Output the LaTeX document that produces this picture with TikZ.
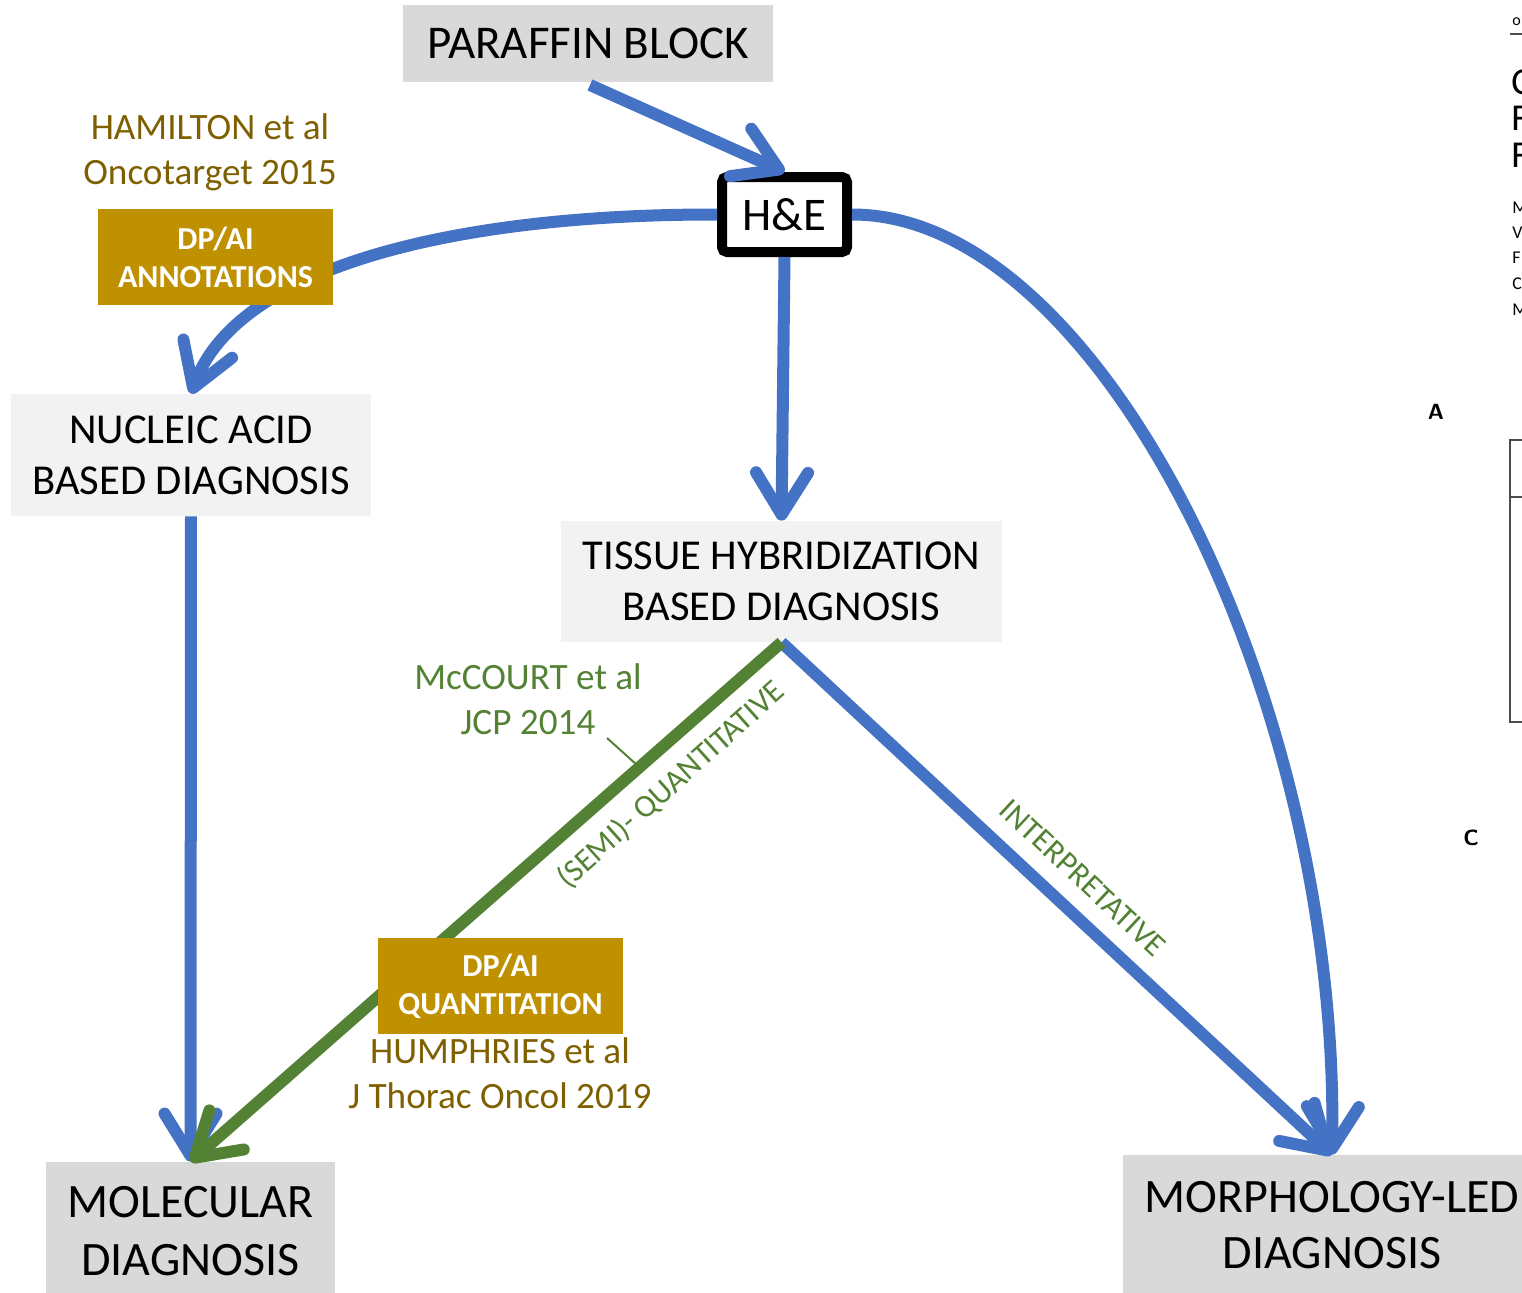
\documentclass[tikz,border=0pt]{standalone}
\usepackage{fontspec}
\setmainfont{Carlito}
\usetikzlibrary{arrows.meta}
\definecolor{offblue}{HTML}{4472C4}
\definecolor{offgreen}{HTML}{548235}
\definecolor{offgold}{HTML}{BF9000}
\definecolor{offolive}{HTML}{7F6000}
\definecolor{boxdark}{HTML}{D9D9D9}
\definecolor{boxlight}{HTML}{F2F2F2}
\begin{document}
\begin{tikzpicture}[
        x=0.5pt, y=-0.5pt,
        font=\fontsize{21.3}{25.5}\selectfont
    ]
    \tikzset{
        boxd/.style = {rectangle, fill=boxdark, inner sep=0pt, align=center},
        boxl/.style = {rectangle, fill=boxlight, inner sep=0pt, align=center},
        boxdp/.style = {rectangle, fill=offgold, inner sep=0pt, align=center, text=white,
            font=\fontsize{16}{19}\selectfont\bfseries},
        boxhe/.style = {rectangle, draw=black, line width=5pt, fill=white, rounded corners=2.5pt,
            minimum width=62.5pt, minimum height=37.5pt, inner sep=0pt, font=\fontsize{23.4}{25}\selectfont},
        refo/.style = {text=offolive, align=center, font=\fontsize{18.6}{22.5}\selectfont},
        refg/.style = {text=offgreen, align=center, font=\fontsize{18.6}{22.5}\selectfont},
        tip/.style = {-{Straight Barb[length=21pt, width=26pt, round]}},
        edgeb/.style = {tip, line width=6pt, offblue},
        edgeg/.style = {tip, line width=6pt, offgreen},
        edgepage/.style = {line width=1pt, black!70},
    }
    \useasboundingbox (0,0) rectangle (1522,1292);
    \clip (0,0) rectangle (1522,1292);
    %
    \node[boxd, minimum width=185pt, minimum height=38.5pt, font=\fontsize{23.5}{25}\selectfont] at (588,43.5) (paraffin) {PARAFFIN BLOCK};
    \node[boxhe] at (784.5,214.5) (he) {H\&E};
    \node[boxl, minimum width=180pt, minimum height=61pt] at (191,455) (nucleic) {NUCLEIC ACID\\BASED DIAGNOSIS};
    \node[boxl, minimum width=220.5pt, minimum height=60.5pt] at (781.5,581.5) (tissue) {TISSUE HYBRIDIZATION\\BASED DIAGNOSIS};
    \node[boxd, minimum width=144.5pt, minimum height=69pt, font=\fontsize{24}{29}\selectfont] at (190.5,1231) (molecular) {MOLECULAR\\DIAGNOSIS};
    \node[boxd, minimum width=209pt, minimum height=70pt, font=\fontsize{24}{28}\selectfont] at (1332,1225) (morph) {MORPHOLOGY-LED\\DIAGNOSIS};
    %
    \node[refo] at (210,152) (hamilton) {HAMILTON et al\\Oncotarget 2015};
    \node[refo] at (500,1073) (humphries) {HUMPHRIES et al\\J Thorac Oncol 2019};
    \node[refg] at (528,699) (mccourt) {McCOURT et al\\JCP 2014};
    %
    \draw[edgeb] (590,85) -- (he.north);
    \draw[edgeb] (he.west) .. controls (470,214) and (240,262) .. (nucleic.north);
    \draw[edgeb] (he.south) -- (tissue.north);
    \draw[edgeb] (he.east) .. controls (1100,214) and (1340,700) .. (morph.north);
    \draw[edgeb] (nucleic.south) -- (molecular.north);
    \draw[edgeb] (tissue.south) -- (morph.north);
    \draw[edgeg] (tissue.south) -- (molecular.north);
    %
    \node[boxdp, minimum width=117.5pt, minimum height=48pt] at (215.5,257) (annot) {DP/AI\\ANNOTATIONS};
    \node[boxdp, minimum width=122.5pt, minimum height=48pt] at (500.5,986) (quant) {DP/AI\\QUANTITATION};
    \coordinate (tick) at (607,738);
    \draw[offgreen, line width=1pt] (tick) -- (637,765);
    \node[text=offgreen, rotate=41.8, font=\fontsize{16}{18}\selectfont] at (671,785) (semi) {(SEMI)- QUANTITATIVE};
    \node[text=offgreen, rotate=-43, font=\fontsize{16}{18}\selectfont] at (1083,878) (interp) {INTERPRETATIVE};
    %
    % edge of the next page
    \node[anchor=west, inner sep=0pt, font=\fontsize{8}{8}\selectfont] at (1512,22) (pa) {o};
    \coordinate (pb) at (1510,34);
    \draw[edgepage] (pb) -- (1522,34);
    \node[anchor=west, inner sep=0pt, font=\fontsize{19}{19}\selectfont] at (1511,82) (pc) {C};
    \node[anchor=west, inner sep=0pt, font=\fontsize{19}{19}\selectfont] at (1511,118) (pd) {F};
    \node[anchor=west, inner sep=0pt, font=\fontsize{19}{19}\selectfont] at (1511,155) (pe) {F};
    \foreach \t/\yy in {M/208, V/233, F/258, C/284, M/310}
        \node[anchor=west, inner sep=0pt, font=\fontsize{9}{9}\selectfont] at (1512,\yy) {\t};
    \node[font=\fontsize{11}{11}\selectfont\bfseries\sffamily] at (1436,412) (pf) {A};
    \node[font=\fontsize{11}{11}\selectfont\bfseries\sffamily] at (1471,838) (pg) {C};
    \coordinate (ba) at (1510,440);
    \coordinate (bb) at (1510,722);
    \draw[edgepage] (1522,440) -- (ba) -- (bb) -- (1522,722);
    \draw[edgepage] (1510,497) -- (1522,497);
\end{tikzpicture}
\end{document}
